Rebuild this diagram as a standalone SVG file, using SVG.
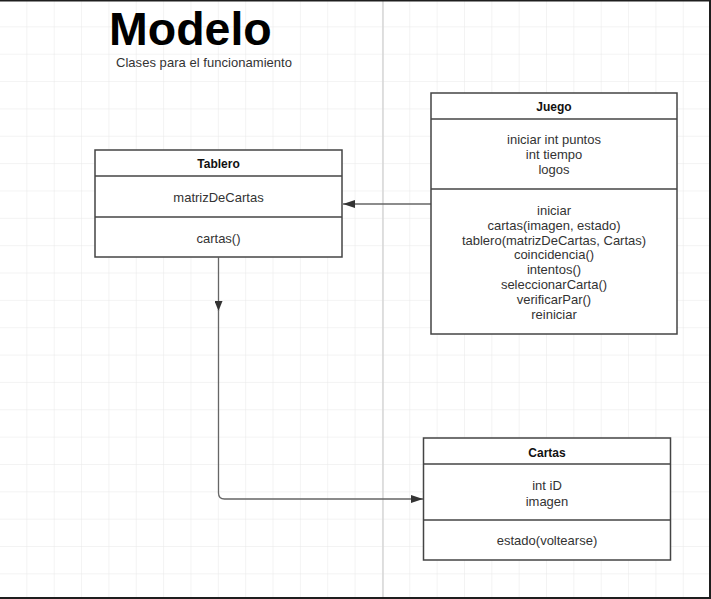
<svg xmlns="http://www.w3.org/2000/svg" width="711" height="599" viewBox="0 0 711 599">
<defs>
<pattern id="grid" x="0" y="0" width="27.35" height="27.35" patternUnits="userSpaceOnUse">
<path d="M27.35 0V27.35M0 27.35H27.35" fill="none" stroke="#e8e8e8" stroke-width="1"/>
</pattern>
<marker id="arr" viewBox="0 0 12 8" refX="12" refY="4" markerWidth="12" markerHeight="8" markerUnits="userSpaceOnUse" orient="auto">
<path d="M0 0L12 4L0 8Z" fill="#333"/>
</marker>
<marker id="mid" viewBox="0 0 10 8" refX="10" refY="4" markerWidth="10" markerHeight="8" markerUnits="userSpaceOnUse" orient="auto">
<path d="M0 0L10 4L0 8Z" fill="#333"/>
</marker>
</defs>
<style>
.box{fill:#fff;stroke:#444;stroke-width:1.5}
.div{stroke:#444;stroke-width:1.5}
.hd{font-family:"Liberation Sans",Arial,sans-serif;font-size:12px;font-weight:bold;fill:#111;text-anchor:middle}
.tx{font-family:"Liberation Sans",Arial,sans-serif;font-size:13px;fill:#333;text-anchor:middle}
.ln{fill:none;stroke:#666;stroke-width:1.3}
</style>
<rect width="711" height="599" fill="#fff"/>
<rect width="711" height="599" fill="url(#grid)"/>
<line x1="383" y1="0" x2="383" y2="599" stroke="#d6d6d6" stroke-width="1.5"/>
<rect x="0" y="0" width="711" height="1.5" fill="#1e1e1e"/>
<rect x="0" y="597" width="711" height="2" fill="#1e1e1e"/>
<rect x="709" y="0" width="2" height="599" fill="#1e1e1e"/>

<g id="title">
<text x="109" y="45" font-family="'Liberation Sans',Arial,sans-serif" font-size="46.5" font-weight="bold" fill="#000">Modelo</text>
<text x="116" y="67" font-family="'Liberation Sans',Arial,sans-serif" font-size="13" fill="#333" textLength="176">Clases para el funcionamiento</text>
</g>

<g id="connectors">
<path class="ln" d="M431 204H343" marker-end="url(#arr)"/>
<path class="ln" d="M218.5 257.5V311" marker-end="url(#mid)"/>
<path class="ln" d="M218.5 310V493Q218.5 499 224.5 499H423" marker-end="url(#arr)"/>
</g>

<g id="tablero">
<rect class="box" x="95" y="150" width="247" height="107"/>
<line class="div" x1="95" y1="176" x2="342" y2="176"/>
<line class="div" x1="95" y1="217" x2="342" y2="217"/>
<text class="hd" x="218.5" y="167.5">Tablero</text>
<text class="tx" x="218.5" y="202">matrizDeCartas</text>
<text class="tx" x="218.5" y="243">cartas()</text>
</g>

<g id="juego">
<rect class="box" x="431" y="93" width="246" height="241"/>
<line class="div" x1="431" y1="119" x2="677" y2="119"/>
<line class="div" x1="431" y1="189" x2="677" y2="189"/>
<text class="hd" x="554" y="111">Juego</text>
<text class="tx" x="554" y="143.5">iniciar int puntos</text>
<text class="tx" x="554" y="158.5">int tiempo</text>
<text class="tx" x="554" y="173.5">logos</text>
<text class="tx" x="554" y="215">iniciar</text>
<text class="tx" x="554" y="229.8">cartas(imagen, estado)</text>
<text class="tx" x="554" y="244.6">tablero(matrizDeCartas, Cartas)</text>
<text class="tx" x="554" y="259.4">coincidencia()</text>
<text class="tx" x="554" y="274.2">intentos()</text>
<text class="tx" x="554" y="289">seleccionarCarta()</text>
<text class="tx" x="554" y="303.8">verificarPar()</text>
<text class="tx" x="554" y="318.6">reiniciar</text>
</g>

<g id="cartas">
<rect class="box" x="423.5" y="438" width="247" height="122"/>
<line class="div" x1="423.5" y1="464" x2="670.5" y2="464"/>
<line class="div" x1="423.5" y1="520" x2="670.5" y2="520"/>
<text class="hd" x="547" y="456.5">Cartas</text>
<text class="tx" x="547" y="489.5">int iD</text>
<text class="tx" x="547" y="505.5">imagen</text>
<text class="tx" x="547" y="544.5">estado(voltearse)</text>
</g>
</svg>
